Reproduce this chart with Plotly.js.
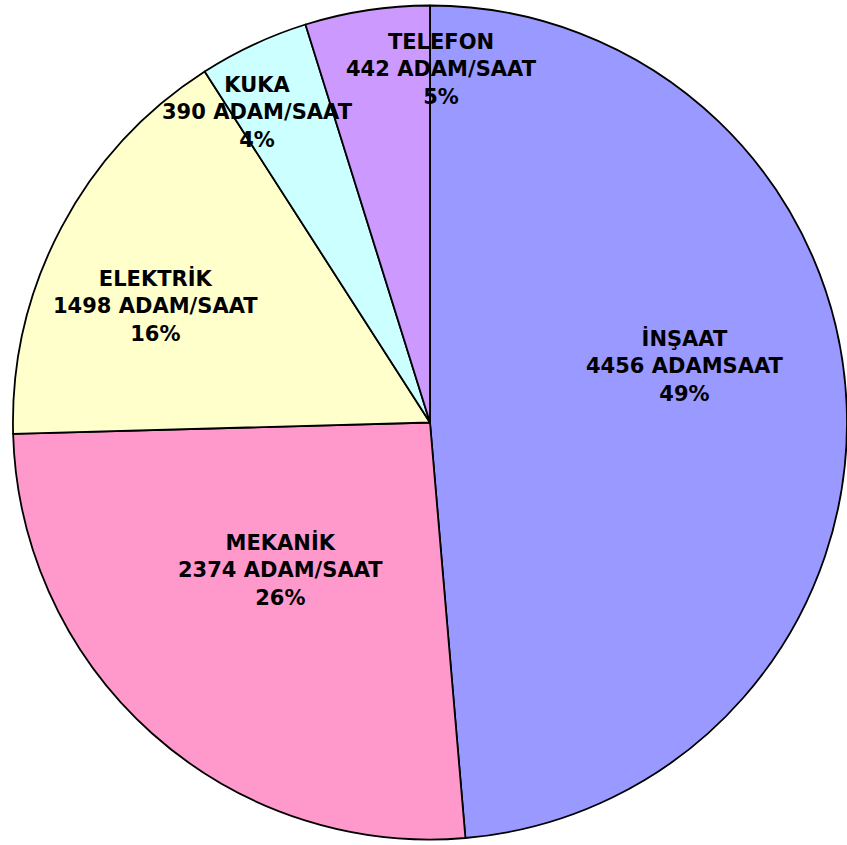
<!DOCTYPE html>
<html>
<head>
<meta charset="utf-8">
<script src="https://cdn.plot.ly/plotly-3.0.1.min.js"></script>
<style>
  html, body { margin: 0; padding: 0; background: #fff; overflow: hidden; }
  #chart { width: 847px; height: 845px; }
</style>
</head>
<body>
<div id="chart"></div>
<script>
const W = 847;
const H = 845;

// slices, clockwise from 12 o'clock
const names  = ['İNŞAAT', 'MEKANİK', 'ELEKTRİK', 'KUKA', 'TELEFON'];
const values = [4456, 2374, 1498, 390, 442];
const units  = ['ADAMSAAT', 'ADAM/SAAT', 'ADAM/SAAT', 'ADAM/SAAT', 'ADAM/SAAT'];
const colors = ['#9999FF', '#FF99CC', '#FFFFCC', '#CCFFFF', '#CC99FF'];

// label block centres in pixels (middle line)
const labelPos = [[685, 366], [280, 570], [155, 306], [257, 112], [441, 70]];

const total = values.reduce((a, b) => a + b, 0);
const labelText = names.map((n, i) =>
    `${n}<br>${values[i]} ${units[i]}<br>${Math.round(values[i] / total * 100)}%`);

const annotations = labelText.map((t, i) => ({
    text: t,
    x: labelPos[i][0] / W,
    y: 1 - labelPos[i][1] / H,
    xref: 'paper', yref: 'paper',
    xanchor: 'center', yanchor: 'middle',
    showarrow: false,
    align: 'center',
    font: { family: 'DejaVu Sans, Arial, sans-serif', size: 21, weight: 'bold', color: '#000' }
}));

Plotly.newPlot('chart', [{
    type: 'pie',
    labels: names,
    values: values,
    sort: false,
    direction: 'clockwise',
    rotation: 0,
    textinfo: 'none',
    marker: { colors: colors, line: { color: '#000', width: 1.8 } },
    domain: { x: [0.0153, 1], y: [0, 1] },
    hoverinfo: 'label+value+percent'
}], {
    width: W, height: H,
    margin: { t: 0, r: 0, b: 0, l: 0 },
    paper_bgcolor: '#fff', plot_bgcolor: '#fff',
    showlegend: false,
    font: { family: 'DejaVu Sans, Arial, sans-serif' },
    annotations: annotations
}, { displayModeBar: false, staticPlot: true });
</script>
</body>
</html>
